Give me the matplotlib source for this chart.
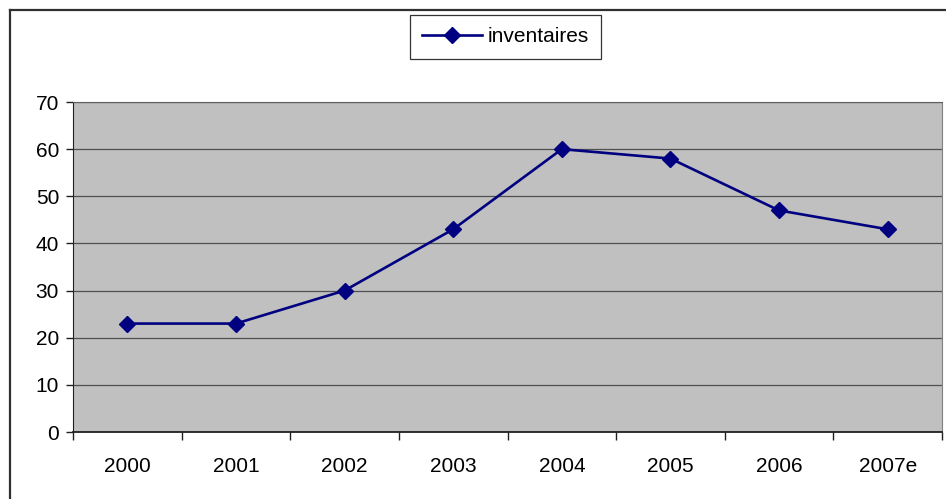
import matplotlib
matplotlib.use('Agg')
import matplotlib.pyplot as plt
import numpy as np
from matplotlib.lines import Line2D

plt.rcParams['font.family'] = ['Liberation Sans', 'DejaVu Sans']

# inventory index by year (2007 is an estimate)
years = ['2000', '2001', '2002', '2003', '2004', '2005', '2006', '2007e']
inventaires = [23, 23, 30, 43, 60, 58, 47, 43]
y_ticks = [0, 10, 20, 30, 40, 50, 60, 70]

fig = plt.figure(figsize=(9.46, 4.99), dpi=100)
ax = fig.add_axes([73/946, 1 - 432/499, (942 - 73)/946, (432 - 102)/499])
ax.set_facecolor('#C0C0C0')

x = np.arange(len(years))
ax.plot(x, inventaires, color='#000080', lw=1.9, marker='D', ms=8.5,
        label='inventaires', zorder=3)

ax.set_xlim(-0.5, len(years) - 0.5)
ax.set_ylim(0, 70)
ax.set_yticks(y_ticks)
ax.grid(axis='y', color='#505050', lw=0.9)

# category ticks sit on the boundaries, labels in the middle
ax.set_xticks(np.arange(len(years) + 1) - 0.5)
ax.set_xticklabels([])
ax.set_xticks(x, minor=True)
ax.set_xticklabels(years, minor=True)
ax.tick_params(axis='x', which='major', direction='out', length=6, width=1,
               color='#202020')
ax.tick_params(axis='x', which='minor', length=0, pad=18, labelsize=15)
ax.tick_params(axis='y', direction='out', length=5, width=1, color='#202020',
               pad=5, labelsize=15)

ax.spines['left'].set_color('#202020')
ax.spines['bottom'].set_color('#202020')
ax.spines['bottom'].set_linewidth(1.3)
ax.spines['top'].set_color('#606060')
ax.spines['right'].set_color('#808080')

leg = fig.legend(loc='center', bbox_to_anchor=(505.5/946, 1 - 37/499),
                 fontsize=15, frameon=True, fancybox=False, handlelength=2.9,
                 borderpad=0.6, handletextpad=0.25, borderaxespad=0)
leg.get_frame().set_edgecolor('black')
leg.get_frame().set_linewidth(0.9)

# outer chart frame (left and top edges only)
fig.add_artist(Line2D([9.5/946, 9.5/946], [0, 1 - 9.5/499], color='#303030',
                      lw=1.6, transform=fig.transFigure))
fig.add_artist(Line2D([9.5/946, 1], [1 - 9.5/499, 1 - 9.5/499],
                      color='#303030', lw=1.6, transform=fig.transFigure))

fig.savefig('out.png', dpi=100)
